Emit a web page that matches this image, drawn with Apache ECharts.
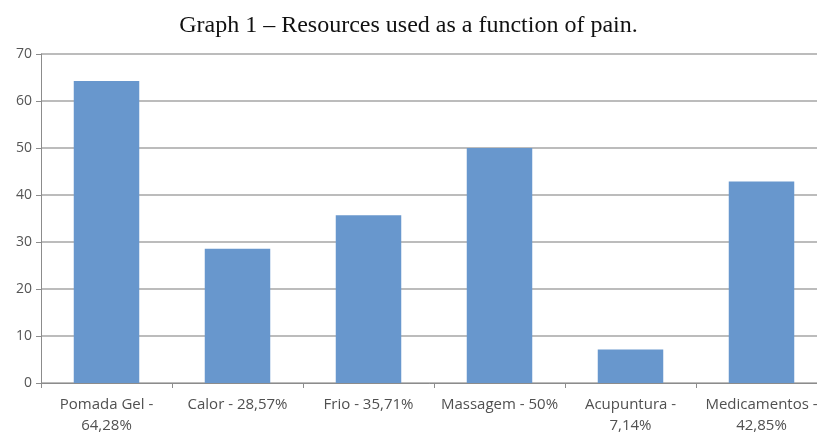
<!DOCTYPE html>
<html>
<head>
<meta charset="utf-8">
<script src="https://cdn.jsdelivr.net/npm/echarts@6/dist/echarts.min.js"></script>
<style>html,body{margin:0;padding:0;background:#fff;}#c{width:817px;height:433px;}</style>
</head>
<body>
<div id="c"></div>
<script>
const categories = ['Pomada Gel -\n64,28%', 'Calor - 28,57%', 'Frio - 35,71%', 'Massagem - 50%', 'Acupuntura -\n7,14%', 'Medicamentos -\n42,85%'];
const values = [64.28, 28.57, 35.71, 50, 7.14, 42.85];
const yTicks = [0, 10, 20, 30, 40, 50, 60, 70];

const chart = echarts.init(document.getElementById('c'));
chart.setOption({
  animation: false,
  backgroundColor: '#fff',
  title: {
    text: 'Graph 1 – Resources used as a function of pain.',
    left: 'center', top: 9,
    textStyle: { fontFamily: 'Liberation Serif', fontSize: 24, fontWeight: 'normal', color: '#111' }
  },
  grid: { left: 41, width: 786, top: 54, height: 329, containLabel: false, outerBoundsMode: 'none' },
  xAxis: {
    type: 'category',
    data: categories,
    axisLine: { lineStyle: { color: '#8c8c8c', width: 1 } },
    axisTick: { show: true, length: 5, alignWithLabel: false, lineStyle: { color: '#8c8c8c' } },
    axisLabel: { color: '#505050', fontFamily: 'Open Sans', fontSize: 15, margin: 11, lineHeight: 21, interval: 0 }
  },
  yAxis: {
    type: 'value',
    min: yTicks[0], max: yTicks[yTicks.length - 1], interval: 10,
    axisLine: { show: true, lineStyle: { color: '#8c8c8c', width: 1 } },
    axisTick: { show: true, length: 5, lineStyle: { color: '#8c8c8c' } },
    axisLabel: { color: '#555', fontFamily: 'Open Sans', fontSize: 14, margin: 9 },
    splitLine: { show: true, lineStyle: { color: '#a6a6a6', width: 1.5 } }
  },
  series: [{
    type: 'bar',
    data: values,
    barCategoryGap: '50%',
    itemStyle: { color: '#6897cd' }
  }]
});
</script>
</body>
</html>
